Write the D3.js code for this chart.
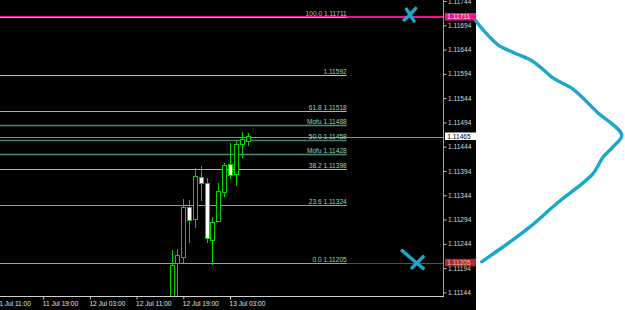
<!DOCTYPE html>
<html><head><meta charset="utf-8">
<script src="https://cdn.jsdelivr.net/npm/d3@7"></script>
<style>
html,body{margin:0;padding:0;background:#fff;overflow:hidden}
svg{display:block}
text{font-family:"Liberation Sans",Arial,sans-serif}
</style>
</head><body>
<svg id="c" width="625" height="310"></svg>
<script>
// ---- data ----
const candleTimes = ["2023-07-12T17:00","2023-07-12T18:00","2023-07-12T19:00","2023-07-12T20:00","2023-07-12T21:00","2023-07-12T22:00","2023-07-12T23:00","2023-07-13T00:00","2023-07-13T01:00","2023-07-13T02:00","2023-07-13T03:00","2023-07-13T04:00","2023-07-13T05:00","2023-07-13T06:00"];
const openP  = [1.11100,1.11204,1.11216,1.11318,1.11294,1.11381,1.11369,1.11250,1.11290,1.11350,1.11408,1.11386,1.11449,1.11455];
const highP  = [1.11231,1.11233,1.11336,1.11334,1.11400,1.11404,1.11379,1.11300,1.11370,1.11410,1.11451,1.11457,1.11475,1.11472];
const lowP   = [1.11080,1.11100,1.11205,1.11245,1.11276,1.11332,1.11246,1.11200,1.11288,1.11341,1.11377,1.11363,1.11420,1.11446];
const closeP = [1.11200,1.11219,1.11319,1.11293,1.11382,1.11369,1.11254,1.11288,1.11351,1.11405,1.11384,1.11448,1.11459,1.11465];

const fibNames  = ["100.0","","61.8","Mofu","50.0","Mofu","38.2","23.6","0.0"];
const fibPrices = [1.11711,1.11592,1.11518,1.11488,1.11458,1.11428,1.11398,1.11324,1.11205];
const fibEnd = "2023-07-13T23:00";

const priceTicks = [1.11744,1.11694,1.11644,1.11594,1.11544,1.11494,1.11444,1.11394,1.11344,1.11294,1.11244,1.11194,1.11144];
const timeTicks = ["2023-07-11T11:00","2023-07-11T19:00","2023-07-12T03:00","2023-07-12T11:00","2023-07-12T19:00","2023-07-13T03:00"];

const highLine = 1.11711, lowLine = 1.11205, bidPrice = 1.11465;

const markTimes  = ["2023-07-14T09:50","2023-07-14T10:15"];
const markPrices = [1.11716, 1.11212];

const curvePrices = [1.11703,1.11684,1.11653,1.11638,1.11619,1.11585,1.11562,1.11516,1.11468,1.11444,1.11423,1.11389,1.11370,1.11327,1.11279,1.11238,1.11207];
const curveReach  = [0,4.9,15,25,38.5,51.9,65.3,81,97.8,92.1,85.4,78.7,72,54.2,36.2,18.3,3.8];

// ---- setup ----
const W = 625, H = 310, axisX = 443, axisY = 296, blackW = 476;
const parse = d3.utcParse("%Y-%m-%dT%H:%M");
const x = d3.scaleUtc().domain([parse("2023-07-12T19:00"), parse("2023-07-13T03:00")]).range([183.3, 230]);
const y = d3.scaleLinear().domain([1.11144, 1.11744]).range([292.4, 1.0]);
const rx = d3.scaleLinear().domain([0, 100]).range([blackW, W]);

const svg = d3.select("#c");
svg.append("rect").attr("width", W).attr("height", H).attr("fill", "#fff");
svg.append("rect").attr("width", blackW).attr("height", H).attr("fill", "#000");

svg.append("clipPath").attr("id", "plot").append("rect").attr("x", 0).attr("y", 0).attr("width", axisX).attr("height", axisY);
const plot = svg.append("g").attr("clip-path", "url(#plot)");

// high/low horizontal lines
plot.append("line").attr("x1", 0).attr("x2", axisX).attr("y1", y(highLine)).attr("y2", y(highLine))
  .attr("stroke", "#f0148c").attr("stroke-width", 2);
plot.append("line").attr("x1", 0).attr("x2", axisX).attr("y1", Math.round(y(lowLine)) + 0.5).attr("y2", Math.round(y(lowLine)) + 0.5)
  .attr("stroke", "#b82222").attr("stroke-width", 1);

// bid line
plot.append("line").attr("x1", 0).attr("x2", axisX).attr("y1", Math.round(y(bidPrice)) + 0.5).attr("y2", Math.round(y(bidPrice)) + 0.5)
  .attr("stroke", "#8a8a8a").attr("stroke-width", 1);

// fib levels
const fibColors = {"100.0":"#f0a8cc","":"#86d6b6","61.8":"#6fd2aa","Mofu":"#4e8c7a","50.0":"#4a8070","38.2":"#7acfae","23.6":"#5fb898","0.0":"#8aa898"};
const fibW = {"Mofu":1.5,"50.0":1.5};
const fx2 = x(parse(fibEnd));
fibPrices.forEach((p, i) => {
  const yy = Math.round(y(p)) + 0.5;
  plot.append("line").attr("x1", 0).attr("x2", fx2).attr("y1", yy).attr("y2", yy)
    .attr("stroke", fibColors[fibNames[i]]).attr("stroke-width", fibW[fibNames[i]] || 1);
  plot.append("text").attr("x", fx2).attr("y", yy - 2).attr("text-anchor", "end")
    .attr("font-size", 6.6).attr("fill", "#92d8b8")
    .text((fibNames[i] ? fibNames[i] + " " : "") + p.toFixed(5));
});

// candles
const green = "#00d400";
const cg = plot.append("g").attr("shape-rendering", "crispEdges");
candleTimes.forEach((t, i) => {
  const cx = Math.round(x(parse(t))) + 0.5;
  const o = openP[i], c = closeP[i];
  cg.append("line").attr("x1", cx).attr("x2", cx).attr("y1", y(highP[i])).attr("y2", y(lowP[i])).attr("stroke", green);
  const top = y(Math.max(o, c)), bot = y(Math.min(o, c));
  cg.append("rect").attr("x", cx - 2).attr("width", 4).attr("y", top).attr("height", Math.max(1, bot - top))
    .attr("fill", c >= o ? "#000" : "#fff").attr("stroke", green).attr("stroke-width", 1);
});

// X marks
const blue = "#19a8cc";
const markShapes = [
  ["M-3.5,-5.5 Q0,0 4,6.5", "M-6,5.5 Q0,1 5.7,-6.2"],
  ["M-10.3,-8.7 Q0,0 10.7,9", "M-0.5,8.5 Q5,3 10.7,-2.7"]
];
markTimes.forEach((t, i) => {
  const g = svg.append("g").attr("transform", `translate(${x(parse(t))},${y(markPrices[i])})`);
  markShapes[i].forEach(d => g.append("path").attr("d", d).attr("fill", "none").attr("stroke", blue)
    .attr("stroke-width", 3.4).attr("stroke-linecap", "round"));
});

// axes
const yAxis = d3.axisRight(y).tickValues(priceTicks).tickFormat(d3.format(".5f")).tickSize(3).tickPadding(1.5);
const ya = svg.append("g").attr("transform", `translate(${axisX + 0.5},0)`).call(yAxis);
ya.select(".domain").remove();
ya.selectAll(".tick line").attr("stroke", "#c0c0c0");
ya.selectAll(".tick text").attr("fill", "#d8d8d8").attr("font-size", 6.6).attr("font-family", "Liberation Sans, Arial, sans-serif");
svg.append("line").attr("x1", axisX + 0.5).attr("x2", axisX + 0.5).attr("y1", 0).attr("y2", axisY + 1).attr("stroke", "#a0a0a0");

const xAxis = d3.axisBottom(x).tickValues(timeTicks.map(parse)).tickFormat(d3.utcFormat("%d %b %H:%M")).tickSize(3).tickPadding(2);
const xa = svg.append("g").attr("transform", `translate(0,${axisY + 0.5})`).call(xAxis);
xa.select(".domain").remove();
xa.selectAll(".tick line").attr("stroke", "#c8c8c8");
xa.selectAll(".tick text").attr("fill", "#e0e0e0").attr("font-size", 6.6).attr("text-anchor", "start").attr("x", -1)
  .attr("font-family", "Liberation Sans, Arial, sans-serif");
svg.append("line").attr("x1", 0).attr("x2", axisX + 1).attr("y1", axisY + 0.5).attr("y2", axisY + 0.5).attr("stroke", "#d0d0d0");

// price boxes on the axis
const boxes = [
  {p: highLine, fill: "#f0148c", txt: "#ffe0f0"},
  {p: bidPrice, fill: "#ffffff", txt: "#000000"},
  {p: lowLine, fill: "#b02828", txt: "#f0c0c0"}
];
boxes.forEach(b => {
  const yy = y(b.p);
  svg.append("rect").attr("x", axisX + 2).attr("y", yy - 4).attr("width", 31).attr("height", 7.5).attr("fill", b.fill);
  svg.append("text").attr("x", axisX + 4.3).attr("y", yy + 2.3).attr("font-size", 6.6).attr("fill", b.txt).text(b.p.toFixed(5));
});

// hand-drawn curve on the right
const pts = curvePrices.map((p, i) => [rx(curveReach[i]), y(p)]);
svg.append("path").attr("d", d3.line().curve(d3.curveCatmullRom.alpha(0.5))(pts))
  .attr("fill", "none").attr("stroke", blue).attr("stroke-width", 3.4).attr("stroke-linecap", "round").attr("stroke-linejoin", "round");
</script>
</body></html>
